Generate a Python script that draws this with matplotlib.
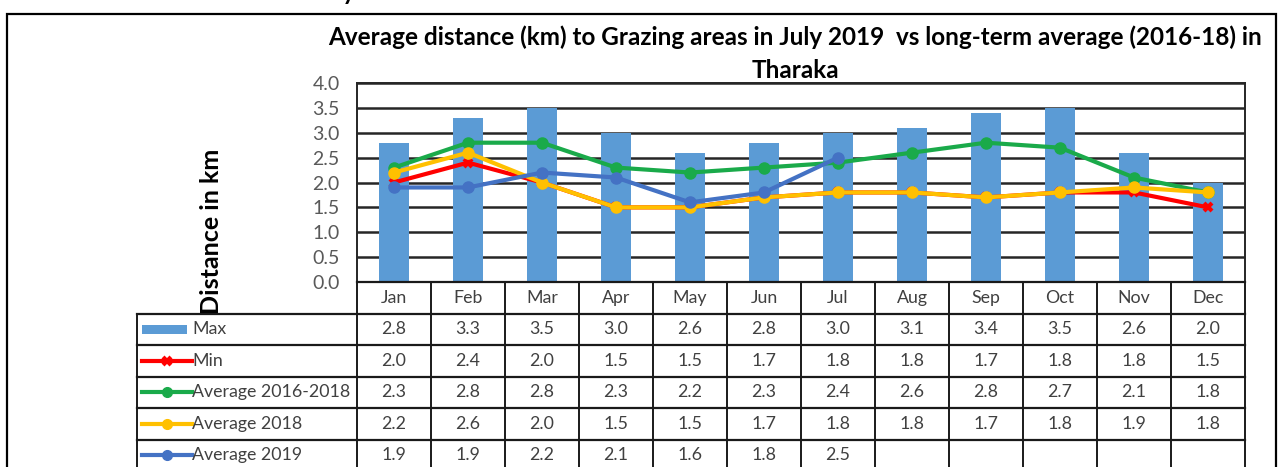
import numpy as np
import matplotlib
matplotlib.use("Agg")
import matplotlib.pyplot as plt
from matplotlib.patches import Rectangle
from matplotlib.lines import Line2D

plt.rcParams['font.family'] = ['Lato', 'DejaVu Sans']

months = ['Jan', 'Feb', 'Mar', 'Apr', 'May', 'Jun', 'Jul', 'Aug', 'Sep', 'Oct', 'Nov', 'Dec']
max_vals = [2.8, 3.3, 3.5, 3.0, 2.6, 2.8, 3.0, 3.1, 3.4, 3.5, 2.6, 2.0]
min_vals = [2.0, 2.4, 2.0, 1.5, 1.5, 1.7, 1.8, 1.8, 1.7, 1.8, 1.8, 1.5]
avg_2016_2018 = [2.3, 2.8, 2.8, 2.3, 2.2, 2.3, 2.4, 2.6, 2.8, 2.7, 2.1, 1.8]
avg_2018 = [2.2, 2.6, 2.0, 1.5, 1.5, 1.7, 1.8, 1.8, 1.7, 1.8, 1.9, 1.8]
avg_2019 = [1.9, 1.9, 2.2, 2.1, 1.6, 1.8, 2.5]

series_names = ['Max', 'Min', 'Average 2016-2018', 'Average 2018', 'Average 2019']
series_vals = [max_vals, min_vals, avg_2016_2018, avg_2018, avg_2019]
colors = ['#5B9BD5', '#FF0000', '#1AAA4A', '#FFC000', '#4472C4']

W, H = 1280, 467
fig = plt.figure(figsize=(W / 100, H / 100), dpi=100)

def px(x0, y0, x1, y1):
    # pixel box -> figure fraction [l, b, w, h]
    return [x0 / W, 1 - y1 / H, (x1 - x0) / W, (y1 - y0) / H]

# outer frame + stray glyph from text above the picture
fig.add_artist(Rectangle((7 / W, -0.1), (1276 - 7) / W, 1.1 - 14 / H,
                         transform=fig.transFigure, fill=False, lw=1.6, ec='black'))
fig.text(341 / W, 1 + 2 / H, 'y', fontsize=24, va='baseline', ha='left')

# main plot
ax = fig.add_axes(px(357, 83, 1245, 282))
x = np.arange(len(months))
lw, ms = 3, 8
ax.bar(x, max_vals, width=0.4, color=colors[0], zorder=2)
ax.plot(x, min_vals, color=colors[1], lw=lw, marker='x', ms=6, mew=3, zorder=3)
ax.plot(x, avg_2016_2018, color=colors[2], lw=lw, marker='o', ms=ms, zorder=4)
ax.plot(x, avg_2018, color=colors[3], lw=lw, marker='o', ms=ms, zorder=5)
ax.plot(x[:len(avg_2019)], avg_2019, color=colors[4], lw=lw, marker='o', ms=ms, zorder=6)

ax.set_xlim(-0.5, 11.5)
ax.set_ylim(0, 4.0)
ax.set_yticks(np.arange(0, 4.01, 0.5))
ax.set_yticklabels([f'{v:.1f}' for v in np.arange(0, 4.01, 0.5)], color='#595959', fontsize=14)
ax.tick_params(axis='y', length=0, pad=12.5)
ax.set_xticks([])
ax.grid(axis='y', color='#262626', lw=1.8, zorder=1)
for s in ax.spines.values():
    s.set_color('#262626')
    s.set_linewidth(1.4)
ax.set_ylabel('Distance in km', fontsize=18, fontweight='bold')
ax.yaxis.set_label_coords(-0.151, 0.256)

fig.text(795 / W, 1 - 37 / H,
         'Average distance (km) to Grazing areas in July 2019  vs long-term average (2016-18) in',
         ha='center', va='center', fontsize=17.5, fontweight='bold')
fig.text(795 / W, 1 - 71 / H, 'Tharaka', ha='center', va='center', fontsize=17.5, fontweight='bold')

# data table under the plot
col_w = 888 / 12
xl = -0.5 - 220 / col_w
tax = fig.add_axes(px(137, 282, 1245, 471))
tax.set_xlim(xl, 11.5)
tax.set_ylim(6, 0)
tax.axis('off')
tax.add_patch(Rectangle((xl, 1), -0.5 - xl, 5, fc='white', ec='none', zorder=0))
lc = '#1a1a1a'
tax.plot([-0.5, 11.5], [0, 0], color=lc, lw=1.6, clip_on=False)
for r in range(1, 7):
    tax.plot([xl, 11.5], [r, r], color=lc, lw=1.6, clip_on=False)
for c in range(13):
    tax.plot([c - 0.5, c - 0.5], [0, 6], color=lc, lw=1.4, clip_on=False)
tax.plot([xl, xl], [1, 6], color=lc, lw=1.4, clip_on=False)

fs = 12.8
for i, m in enumerate(months):
    tax.text(i, 0.5, m, ha='center', va='center', fontsize=fs, color='#404040')
for r, (name, vals) in enumerate(zip(series_names, series_vals), start=1):
    for i, v in enumerate(vals):
        tax.text(i, r + 0.5, f'{v:.1f}', ha='center', va='center', fontsize=fs, color='#404040')
    tax.text(xl + 55 / col_w, r + 0.5, name, ha='left', va='center', fontsize=fs, color='#404040')
    ix0, ix1 = xl + 5 / col_w, xl + 55 / col_w
    if r == 1:
        tax.add_patch(Rectangle((ix0, r + 0.38), ix1 - ix0 - 5 / col_w, 0.26, fc=colors[0], ec='none'))
    else:
        mk = 'x' if r == 2 else 'o'
        tax.add_line(Line2D([ix0, ix1], [r + 0.5, r + 0.5], color=colors[r - 1], lw=lw))
        tax.add_line(Line2D([(ix0 + ix1) / 2], [r + 0.5], color=colors[r - 1],
                            marker=mk, ms=6 if mk == 'x' else 7, mew=3 if mk == 'x' else 1))

fig.savefig('out.png', dpi=100)
